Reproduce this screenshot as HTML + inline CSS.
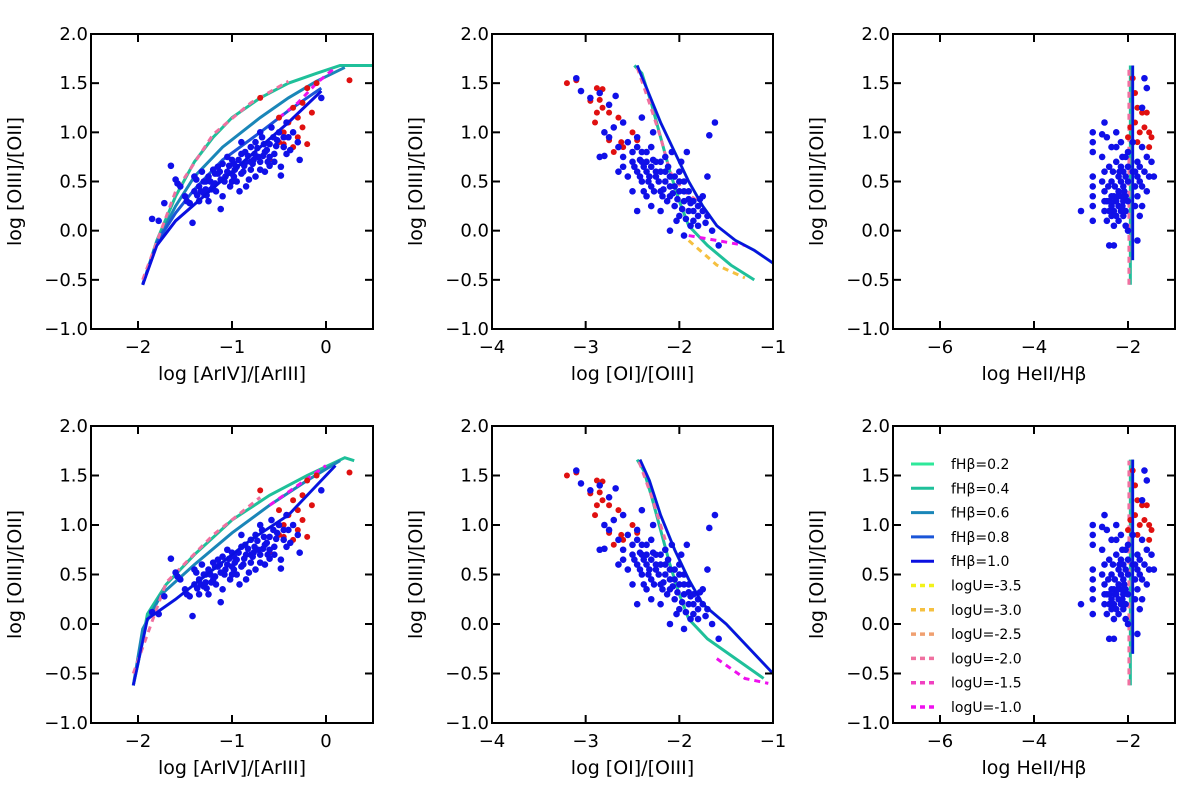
<!DOCTYPE html>
<html><head><meta charset="utf-8"><style>
body{margin:0;background:#fff;}
svg text{font-family:"DejaVu Sans","Liberation Sans",sans-serif;fill:#000;}
</style></head><body>
<svg id="fig" width="1200" height="789" viewBox="0 0 1200 789" xmlns="http://www.w3.org/2000/svg"></svg>
<script>
// ---- data ----
const yTicks=[-1.0,-0.5,0.0,0.5,1.0,1.5,2.0];
const argonBlue=[[-1.85,0.12],[-1.78,0.10],[-1.72,0.28],[-1.65,0.66],[-1.6,0.52],[-1.58,0.48],[-1.55,0.45],[-1.5,0.35],[-1.48,0.30],[-1.45,0.28],[-1.42,0.08],[-1.4,0.4],[-1.38,0.52],[-1.35,0.45],[-1.32,0.6],[-1.3,0.38],[-1.28,0.5],[-1.25,0.55],[-1.22,0.42],[-1.2,0.62],[-1.18,0.48],[-1.15,0.58],[-1.12,0.22],[-1.1,0.68],[-1.08,0.5],[-1.05,0.6],[-1.02,0.45],[-1.0,0.72],[-0.98,0.55],[-0.95,0.65],[-0.92,0.4],[-0.9,0.78],[-0.88,0.6],[-0.85,0.7],[-0.82,0.52],[-0.8,0.85],[-0.78,0.68],[-0.75,0.9],[-0.72,0.75],[-0.7,0.62],[-0.68,0.95],[-0.65,0.8],[-0.62,0.7],[-0.6,0.88],[-0.58,1.05],[-0.55,0.78],[-0.52,0.92],[-0.5,1.0],[-0.48,0.65],[-0.48,0.56],[-0.45,0.85],[-0.42,1.1],[-0.4,0.95],[-0.38,0.82],[-0.35,1.0],[-0.3,0.9],[-0.28,0.72],[-0.05,1.35],[-1.25,0.3],[-1.1,0.35],[-0.95,0.5],[-0.85,0.45],[-1.35,0.3],[-1.05,0.75],[-0.75,0.55],[-0.65,0.6],[-0.9,0.9],[-1.15,0.65],[-0.7,1.0],[-1.4,0.55],[-1.0,0.58],[-0.8,0.7],[-0.6,0.75],[-1.2,0.45],[-1.3,0.5],[-1.12,0.52],[-0.98,0.68],[-0.86,0.8],[-0.76,0.78],[-1.28,0.42],[-1.18,0.58],[-0.66,0.88],[-0.56,0.95],[-1.33,0.4],[-1.23,0.5],[-1.13,0.6],[-1.03,0.66],[-0.93,0.72],[-0.83,0.76],[-0.73,0.84],[-0.63,0.82],[-0.53,0.86],[-1.07,0.55],[-0.97,0.62],[-0.87,0.66],[-0.77,0.72],[-0.67,0.76],[-1.17,0.4],[-1.27,0.36],[-1.37,0.36],[-0.9,0.58],[-0.8,0.62],[-1.0,0.5],[-0.7,0.7],[-0.6,0.66],[-0.55,0.7],[-0.45,0.95],[-0.42,0.78]];
const argonRed=[[-0.7,1.35],[-0.5,1.15],[-0.45,1.0],[-0.4,0.95],[-0.35,1.25],[-0.3,1.15],[-0.25,1.3],[-0.2,1.45],[-0.15,1.2],[-0.25,1.05],[-0.2,0.88],[-0.35,0.85],[-0.55,0.78],[-0.6,0.72],[-0.45,0.88],[-0.4,1.1],[-0.1,1.5],[0.25,1.53],[-0.3,0.95],[-0.5,0.9]];
const oxyBlue=[[-3.1,1.55],[-3.05,1.42],[-2.95,1.35],[-2.85,1.4],[-2.75,1.28],[-2.68,1.37],[-2.7,1.05],[-2.6,1.1],[-2.8,1.0],[-2.75,0.95],[-2.85,0.75],[-2.8,0.76],[-2.65,0.85],[-2.55,0.9],[-2.5,0.8],[-2.45,0.95],[-2.6,0.65],[-2.55,0.55],[-2.5,0.7],[-2.45,0.6],[-2.4,0.8],[-2.4,0.5],[-2.35,0.7],[-2.35,0.6],[-2.3,0.45],[-2.3,0.85],[-2.25,0.55],[-2.25,0.7],[-2.2,0.4],[-2.2,0.6],[-2.15,0.5],[-2.15,0.75],[-2.1,0.35],[-2.1,0.55],[-2.05,0.45],[-2.05,0.25],[-2.0,0.4],[-2.0,0.6],[-1.95,0.3],[-1.95,0.5],[-1.9,0.2],[-1.9,0.4],[-1.85,0.3],[-1.85,0.1],[-1.8,0.25],[-1.8,0.05],[-1.75,0.2],[-1.7,0.15],[-1.7,0.55],[-1.65,0.0],[-1.62,1.1],[-1.68,0.97],[-1.58,-0.15],[-1.95,-0.05],[-2.4,1.15],[-2.45,0.2],[-2.3,0.25],[-2.6,0.75],[-2.65,0.6],[-2.35,0.35],[-2.5,0.4],[-1.75,0.35],[-2.0,0.15],[-2.1,0.0],[-2.2,0.2],[-1.92,0.8],[-2.12,0.65],[-2.28,1.0],[-2.08,0.8],[-1.98,0.7],[-2.38,0.65],[-2.32,0.55],[-2.22,0.5],[-2.18,0.35],[-2.02,0.32],[-1.88,0.28],[-2.42,0.72],[-2.28,0.72],[-2.45,0.85],[-2.4,0.7],[-2.35,0.8],[-2.3,0.65],[-2.25,0.6],[-2.2,0.7],[-2.15,0.6],[-2.1,0.45],[-2.05,0.55],[-2.0,0.5],[-1.95,0.4],[-1.9,0.32],[-1.85,0.2],[-1.8,0.15],[-2.33,0.5],[-2.27,0.4],[-2.17,0.42],[-2.07,0.38],[-1.97,0.22],[-1.93,0.12],[-2.48,0.65],[-2.42,0.55],[-2.38,0.4],[-2.13,0.3],[-2.03,0.1],[-1.88,0.05],[-1.78,0.32],[-1.72,0.08]];
const oxyRed=[[-3.2,1.5],[-3.1,1.53],[-2.88,1.45],[-2.82,1.44],[-2.95,1.32],[-2.85,1.33],[-2.82,1.25],[-2.88,1.2],[-2.9,1.1],[-2.75,1.2],[-2.65,1.15],[-2.7,1.05],[-2.6,0.85],[-2.7,0.8],[-2.75,0.92],[-2.5,1.0],[-2.45,0.92],[-2.62,0.9]];
const heBlue=[[-3.0,0.2],[-2.75,1.0],[-2.75,0.9],[-2.75,0.8],[-2.75,0.55],[-2.75,0.45],[-2.75,0.35],[-2.75,0.25],[-2.75,0.1],[-2.55,0.98],[-2.5,1.1],[-2.45,0.95],[-2.55,0.75],[-2.5,0.6],[-2.55,0.5],[-2.5,0.4],[-2.5,0.3],[-2.5,0.2],[-2.45,0.1],[-2.4,-0.15],[-2.35,0.85],[-2.4,0.65],[-2.35,0.5],[-2.35,0.35],[-2.3,0.2],[-2.3,0.05],[-2.25,1.0],[-2.25,0.7],[-2.2,0.55],[-2.2,0.4],[-2.2,0.25],[-2.2,0.1],[-2.15,0.9],[-2.15,0.65],[-2.1,0.45],[-2.1,0.3],[-2.1,0.15],[-2.05,0.75],[-2.05,0.55],[-2.05,0.35],[-2.05,0.2],[-2.0,0.5],[-2.0,0.0],[-2.3,-0.15],[-1.9,0.9],[-1.9,0.6],[-1.85,0.45],[-1.85,0.25],[-1.8,0.7],[-1.8,0.35],[-1.75,0.5],[-1.7,0.85],[-1.7,0.25],[-1.65,0.6],[-1.6,0.75],[-1.6,0.4],[-1.55,0.55],[-1.8,-0.1],[-1.5,0.7],[-1.45,0.55],[-1.7,1.25],[-1.65,1.55],[-1.6,1.45],[-2.4,0.3],[-2.28,0.45],[-2.18,0.6],[-2.12,0.75],[-2.32,0.6],[-2.42,0.45],[-1.75,0.15],[-2.45,0.3],[-2.4,0.2],[-2.35,0.15],[-2.3,0.35],[-2.25,0.3],[-2.25,0.15],[-2.15,0.2],[-2.15,0.35],[-2.15,0.5],[-2.1,0.6],[-2.05,0.05],[-2.0,0.3],[-2.0,0.65],[-2.0,0.8],[-1.85,0.6],[-1.8,0.55],[-1.75,0.65],[-1.7,0.45],[-2.25,0.85],[-2.35,0.25],[-2.28,0.3],[-2.08,0.4],[-2.22,0.35],[-2.12,0.25]];
const heRed=[[-1.9,1.55],[-1.85,1.4],[-1.8,1.25],[-1.7,1.2],[-1.6,1.2],[-1.65,1.05],[-1.55,1.0],[-1.85,1.1],[-1.95,1.05],[-1.75,1.0],[-1.5,0.95],[-1.7,0.85],[-2.0,0.95],[-1.8,0.9],[-1.55,0.85]];
const fColors=['#2ee89a','#1fc09a','#1a86b8','#1a55d8','#0a10e0'];
const uColors=['#f2f21a','#f5c040','#f0a070','#f070a0','#f040c0','#ee10ee'];
const fLabels=['fHβ=0.2','fHβ=0.4','fHβ=0.6','fHβ=0.8','fHβ=1.0'];
const uLabels=['logU=-3.5','logU=-3.0','logU=-2.5','logU=-2.0','logU=-1.5','logU=-1.0'];
const argTopCurves=[[[-1.95,-0.55],[-1.8,-0.1],[-1.6,0.35],[-1.4,0.7],[-1.2,0.95],[-1.0,1.15],[-0.7,1.35],[-0.4,1.5],[-0.1,1.6],[0.15,1.68],[0.5,1.68]],[[-1.95,-0.55],[-1.8,-0.12],[-1.6,0.25],[-1.4,0.55],[-1.1,0.85],[-0.7,1.15],[-0.4,1.35],[-0.1,1.52],[0.2,1.66]],[[-1.95,-0.55],[-1.8,-0.12],[-1.6,0.18],[-1.4,0.42],[-1.1,0.72],[-0.7,1.0],[-0.4,1.22],[-0.05,1.45]],[[-1.95,-0.55],[-1.8,-0.15],[-1.6,0.1],[-1.3,0.35],[-1.0,0.6],[-0.7,0.85],[-0.4,1.1],[-0.05,1.42]]];
const argTopDash=[[[-1.95,-0.5],[-1.6,0.4],[-1.2,0.98],[-0.8,1.3],[-0.4,1.52]],[[-0.5,1.15],[-0.3,1.3],[-0.1,1.5],[0.1,1.66]]];
const argBotCurves=[[[-2.05,-0.62],[-2.0,-0.4],[-1.9,0.1],[-1.7,0.4],[-1.4,0.7],[-1.0,1.05],[-0.6,1.3],[-0.2,1.5],[0.2,1.68],[0.3,1.65]],[[-2.05,-0.62],[-1.95,-0.05],[-1.75,0.3],[-1.4,0.6],[-1.0,0.92],[-0.6,1.2],[-0.2,1.45],[0.15,1.65]],[[-2.05,-0.62],[-1.9,0.05],[-1.6,0.25],[-1.2,0.55],[-0.8,0.85],[-0.4,1.1],[0.1,1.6]]];
const argBotDash=[[[-2.05,-0.5],[-1.7,0.42],[-1.2,0.9],[-0.7,1.28]],[[-0.6,1.2],[-0.3,1.4],[0.0,1.6]]];
const oxyTopCurves=[[[-2.48,1.68],[-2.4,1.6],[-2.3,1.3],[-2.2,0.95],[-2.1,0.6],[-2.0,0.3],[-1.9,0.05],[-1.7,-0.15],[-1.45,-0.35],[-1.2,-0.5]],[[-2.45,1.68],[-2.35,1.45],[-2.2,1.1],[-2.05,0.8],[-1.9,0.5],[-1.75,0.25],[-1.6,0.05],[-1.4,-0.1],[-1.2,-0.2],[-1.0,-0.33]]];
const oxyTopDash=[[[-2.45,1.66],[-2.32,1.3],[-2.2,0.95],[-2.1,0.6],[-1.95,0.4],[-1.8,0.3]],[[-1.9,-0.05],[-1.6,-0.1],[-1.3,-0.15]],[[-1.9,-0.1],[-1.6,-0.35],[-1.3,-0.48]]];
const oxyBotCurves=[[[-2.45,1.66],[-2.38,1.55],[-2.3,1.3],[-2.2,0.95],[-2.1,0.6],[-2.0,0.3],[-1.9,0.05],[-1.7,-0.15],[-1.4,-0.35],[-1.1,-0.55]],[[-2.42,1.66],[-2.32,1.45],[-2.2,1.1],[-2.05,0.75],[-1.9,0.45],[-1.75,0.2],[-1.5,0.0],[-1.25,-0.25],[-1.0,-0.5]]];
const oxyBotDash=[[[-2.43,1.64],[-2.3,1.3],[-2.15,0.85]],[[-1.6,-0.35],[-1.3,-0.55],[-1.05,-0.6]]];
const heTopCurves=[[[-1.95,-0.55],[-1.95,1.68]],[[-1.9,-0.3],[-1.9,1.68]]];
const heTopDash=[[[-1.98,-0.55],[-1.98,1.65]]];
const heBotCurves=[[[-1.95,-0.62],[-1.95,1.66]],[[-1.9,-0.3],[-1.9,1.66]]];
const heBotDash=[[[-1.98,-0.62],[-1.98,1.65]]];

const NS='http://www.w3.org/2000/svg';
const svg=document.getElementById('fig');
function mk(tag,attrs,parent){const e=document.createElementNS(NS,tag);for(const k in attrs)e.setAttribute(k,attrs[k]);(parent||svg).appendChild(e);return e;}

function panel(id,L,T,W,H,xmin,xmax,xt,xlab,blue,red,curves,dashes,legend){
  const g=mk('g',{});
  
  
  const sx=v=>L+(v-xmin)/(xmax-xmin)*W;
  const sy=v=>T+H-(v+1)/3*H;
  const clip='clip-'+id;
  const cp=mk('clipPath',{id:clip},g);mk('rect',{x:L,y:T,width:W,height:H},cp);
  const data=mk('g',{'clip-path':'url(#'+clip+')'},g);
  curves.forEach((c,i)=>{
    const p=mk('polyline',{points:c.map(q=>sx(q[0])+','+sy(q[1])).join(' '),fill:'none',stroke:fColors[(i+1)%5],'stroke-width':3},data);
    
    
  });
  dashes.forEach((c,i)=>{
    const p=mk('polyline',{points:c.map(q=>sx(q[0])+','+sy(q[1])).join(' '),fill:'none',stroke:uColors[(i*2+3)%6],'stroke-width':3,'stroke-dasharray':'6 5'},data);
    
    
  });
  red.forEach(q=>{const c=mk('circle',{cx:sx(q[0]),cy:sy(q[1]),r:3,fill:'#e01010'},data);
    
    });
  blue.forEach(q=>{const c=mk('circle',{cx:sx(q[0]),cy:sy(q[1]),r:3.3,fill:'#1010e8'},data);
    
    });
  curves.slice(-1).forEach(c=>{mk('polyline',{points:c.map(q=>sx(q[0])+','+sy(q[1])).join(' '),fill:'none',stroke:'#0a10e0','stroke-width':2.5},data);});
  mk('rect',{x:L,y:T,width:W,height:H,fill:'none',stroke:'#000','stroke-width':2},g);
  xt.forEach(v=>{const x=sx(v);
    mk('line',{x1:x,y1:T+H,x2:x,y2:T+H-8,stroke:'#000','stroke-width':2},g);
    mk('line',{x1:x,y1:T,x2:x,y2:T+8,stroke:'#000','stroke-width':2},g);
    const t=mk('text',{x:x,y:T+H+24,'text-anchor':'middle','font-size':18},g);t.textContent=(v<0?'\u2212'+(-v):''+v);
    
    });
  yTicks.forEach(v=>{const y=sy(v);
    mk('line',{x1:L,y1:y,x2:L+8,y2:y,stroke:'#000','stroke-width':2},g);
    mk('line',{x1:L+W,y1:y,x2:L+W-8,y2:y,stroke:'#000','stroke-width':2},g);
    const t=mk('text',{x:L-3,y:y+6,'text-anchor':'end','font-size':18},g);t.textContent=(v<0?'\u2212':'')+Math.abs(v).toFixed(1);
    
    });
  const xl=mk('text',{x:L+W/2,y:T+H+51,'text-anchor':'middle','font-size':19},g);xl.textContent=xlab;
  
  
  const yl=mk('text',{x:0,y:0,'text-anchor':'middle','font-size':19,transform:`translate(${L-70},${T+H/2}) rotate(-90)`},g);yl.textContent='log [OIII]/[OII]';
  
  
  if(legend){
    const lg=mk('g',{},g);
    
    
    const labs=fLabels.concat(uLabels);
    labs.forEach((s,i)=>{const y=T+38+i*24.3;const dashed=i>=5;
      mk('line',{x1:L+18,y1:y,x2:L+41,y2:y,stroke:dashed?uColors[i-5]:fColors[i],'stroke-width':dashed?3.5:3,'stroke-dasharray':dashed?'5 4':'none'},lg);
      const t=mk('text',{x:L+58,y:y+5,'font-size':14},lg);t.textContent=s;
      
      });
  }
}
panel('panel-arIV-top',91,34,282,295,-2.5,0.5,[-2,-1,0],'log [ArIV]/[ArIII]',argonBlue,argonRed,argTopCurves,argTopDash,false);
panel('panel-oi-top',492,34,281,295,-4,-1,[-4,-3,-2,-1],'log [OI]/[OIII]',oxyBlue,oxyRed,oxyTopCurves,oxyTopDash,false);
panel('panel-heii-top',893,34,282,295,-7,-1,[-6,-4,-2],'log HeII/Hβ',heBlue,heRed,heTopCurves,heTopDash,false);
panel('panel-arIV-bottom',91,426,282,297,-2.5,0.5,[-2,-1,0],'log [ArIV]/[ArIII]',argonBlue,argonRed,argBotCurves,argBotDash,false);
panel('panel-oi-bottom',492,426,281,297,-4,-1,[-4,-3,-2,-1],'log [OI]/[OIII]',oxyBlue,oxyRed,oxyBotCurves,oxyBotDash,false);
panel('panel-heii-bottom',893,426,282,297,-7,-1,[-6,-4,-2],'log HeII/Hβ',heBlue,heRed,heBotCurves,heBotDash,true);
</script>
</body></html>
